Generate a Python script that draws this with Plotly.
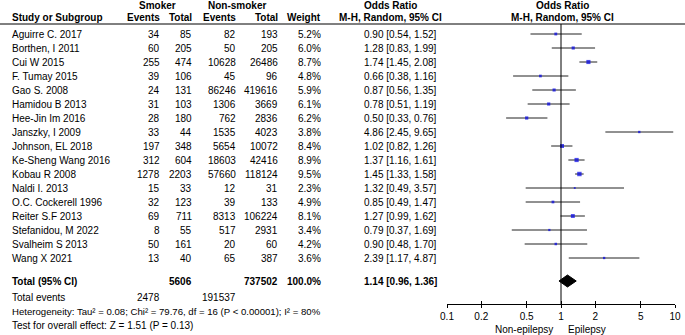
import plotly.graph_objects as go

# ---------------- data ----------------
studies = ["Aguirre C. 2017", "Borthen, I 2011", "Cui W 2015", "F. Tumay 2015", "Gao S. 2008",
           "Hamidou B 2013", "Hee-Jin Im 2016", "Janszky, I 2009", "Johnson, EL 2018",
           "Ke-Sheng Wang 2016", "Kobau R 2008", "Naldi I. 2013", "O.C. Cockerell 1996",
           "Reiter S.F 2013", "Stefanidou, M 2022", "Svalheim S 2013", "Wang X 2021"]
smoker_events = [34, 60, 255, 39, 24, 31, 28, 33, 197, 312, 1278, 15, 32, 69, 8, 50, 13]
smoker_total = [85, 205, 474, 106, 131, 103, 180, 44, 348, 604, 2203, 33, 123, 711, 55, 161, 40]
nonsmoker_events = [82, 50, 10628, 45, 86246, 1306, 762, 1535, 5654, 18603, 57660, 12, 39, 8313, 517, 20, 65]
nonsmoker_total = [193, 205, 26486, 96, 419616, 3669, 2836, 4023, 10072, 42416, 118124, 31, 133, 106224, 2931, 60, 387]
weights = [5.2, 6.0, 8.7, 4.8, 5.9, 6.1, 6.2, 3.8, 8.4, 8.9, 9.5, 2.3, 4.9, 8.1, 3.4, 4.2, 3.6]
odds_ratio = [0.90, 1.28, 1.74, 0.66, 0.87, 0.78, 0.50, 4.86, 1.02, 1.37, 1.45, 1.32, 0.85, 1.27, 0.79, 0.90, 2.39]
ci_low = [0.54, 0.83, 1.45, 0.38, 0.56, 0.51, 0.33, 2.45, 0.82, 1.16, 1.33, 0.49, 0.49, 0.99, 0.37, 0.48, 1.17]
ci_high = [1.52, 1.99, 2.08, 1.16, 1.35, 1.19, 0.76, 9.65, 1.26, 1.61, 1.58, 3.57, 1.47, 1.62, 1.69, 1.70, 4.87]

total_smoker = 5606
total_nonsmoker = 737502
total_weight = "100.0%"
events_smoker = 2478
events_nonsmoker = 191537
pooled_or = 1.14
pooled_low = 0.96
pooled_high = 1.36
heterogeneity = "Heterogeneity: Tau² = 0.08; Chi² = 79.76, df = 16 (P < 0.00001); I² = 80%"
overall_test = "Test for overall effect: Z = 1.51 (P = 0.13)"

tick_vals = [0.1, 0.2, 0.5, 1, 2, 5, 10]
tick_text = ["0.1", "0.2", "0.5", "1", "2", "5", "10"]
favours_left = "Non-epilepsy"
favours_right = "Epilepsy"

# ---------------- layout constants (pixels) ----------------
W, H = 685, 335
ROW0, STEP = 34, 14
TOTAL_Y = 281
EVENTS_Y = 297
HET_Y = 311
TEST_Y = 325
HEAD1_Y, HEAD2_Y = 5, 17
RULE_Y = 24
AXIS_Y = 304
PLOT_L, PLOT_R = 447, 675
FONT = "Liberation Sans, Arial, sans-serif"
FS = 10
FS_HET = 9.6

rows_y = [ROW0 + STEP * i for i in range(len(studies))]

fig = go.Figure()

# CI lines
xs, ys = [], []
for lo, hi, y in zip(ci_low, ci_high, rows_y):
    xs += [lo, hi, None]
    ys += [y, y, None]
fig.add_trace(go.Scatter(x=xs, y=ys, mode="lines", line=dict(color="#222222", width=1),
                         hoverinfo="skip", showlegend=False))
# point estimates
fig.add_trace(go.Scatter(x=odds_ratio, y=rows_y, mode="markers",
                         marker=dict(symbol="square", color="#0000e6",
                                     size=[1.0 + 0.36 * w for w in weights], line=dict(width=0)),
                         showlegend=False))
# pooled diamond
DH = 6
fig.add_trace(go.Scatter(x=[pooled_low, pooled_or, pooled_high, pooled_or, pooled_low],
                         y=[TOTAL_Y, TOTAL_Y - DH, TOTAL_Y, TOTAL_Y + DH, TOTAL_Y],
                         mode="lines", fill="toself", fillcolor="black",
                         line=dict(color="black", width=1), showlegend=False))
# invisible trace for inward-ticks companion axis
fig.add_trace(go.Scatter(x=[1], y=[AXIS_Y], xaxis="x2", mode="markers",
                         marker=dict(opacity=0), showlegend=False, hoverinfo="skip"))

axis_pos = 1 - AXIS_Y / H
dom = [PLOT_L / W, PLOT_R / W]
common_x = dict(type="log", range=[-1, 1], domain=dom, showgrid=False, zeroline=False,
                tickvals=tick_vals, showline=True, linecolor="black", linewidth=1,
                tickcolor="black", tickwidth=1, anchor="free", position=axis_pos,
                automargin=False, fixedrange=True)
fig.update_layout(
    width=W, height=H, margin=dict(l=0, r=0, t=0, b=0, pad=0, autoexpand=False),
    paper_bgcolor="white", plot_bgcolor="white",
    xaxis=dict(**common_x, ticks="outside", ticklen=3, ticktext=tick_text,
               tickfont=dict(family=FONT, size=FS, color="black"), side="bottom"),
    xaxis2=dict(**common_x, ticks="inside", ticklen=3, showticklabels=False,
                overlaying="x", matches="x"),
    yaxis=dict(range=[H, 0], domain=[0, 1], visible=False, automargin=False, fixedrange=True),
)

# vertical line at OR = 1
fig.add_shape(type="line", xref="x", yref="y", x0=1, x1=1, y0=RULE_Y, y1=AXIS_Y,
              line=dict(color="black", width=1))
# header rule
fig.add_shape(type="line", xref="paper", yref="y", x0=0, x1=1, y0=RULE_Y, y1=RULE_Y,
              line=dict(color="black", width=1))

anns = []

def txt(text, x, y, anchor="left", bold=False, size=FS):
    s = f"<b>{text}</b>" if bold else text
    anns.append(dict(text=s, x=x / W, y=y, xref="paper", yref="y", xanchor=anchor,
                     yanchor="middle", showarrow=False,
                     font=dict(family=FONT, size=size, color="black")))

# headers
txt("Smoker", 157, HEAD1_Y, "center", True)
txt("Non-smoker", 237, HEAD1_Y, "center", True)
txt("Odds Ratio", 390, HEAD1_Y, "center", True)
txt("Odds Ratio", 562, HEAD1_Y, "center", True)
txt("Study or Subgroup", 10, HEAD2_Y, "left", True)
txt("Events", 162, HEAD2_Y, "right", True)
txt("Total", 194, HEAD2_Y, "right", True)
txt("Events", 238, HEAD2_Y, "right", True)
txt("Total", 280, HEAD2_Y, "right", True)
txt("Weight", 323, HEAD2_Y, "right", True)
txt("M-H, Random, 95% CI", 390, HEAD2_Y, "center", True)
txt("M-H, Random, 95% CI", 562, HEAD2_Y, "center", True)

for i, y in enumerate(rows_y):
    txt(studies[i], 10, y)
    txt(str(smoker_events[i]), 162, y, "right")
    txt(str(smoker_total[i]), 194, y, "right")
    txt(str(nonsmoker_events[i]), 238, y, "right")
    txt(str(nonsmoker_total[i]), 280, y, "right")
    txt(f"{weights[i]:.1f}%", 323, y, "right")
    txt(f"{odds_ratio[i]:.2f} [{ci_low[i]:.2f}, {ci_high[i]:.2f}]", 439, y, "right")

txt("Total (95% CI)", 10, TOTAL_Y, "left", True)
txt(str(total_smoker), 194, TOTAL_Y, "right", True)
txt(str(total_nonsmoker), 280, TOTAL_Y, "right", True)
txt(total_weight, 323, TOTAL_Y, "right", True)
txt(f"{pooled_or:.2f} [{pooled_low:.2f}, {pooled_high:.2f}]", 439, TOTAL_Y, "right", True)
txt("Total events", 10, EVENTS_Y)
txt(str(events_smoker), 162, EVENTS_Y, "right")
txt(str(events_nonsmoker), 238, EVENTS_Y, "right")
txt(heterogeneity, 10, HET_Y, size=FS_HET)
txt(overall_test, 10, TEST_Y)
txt(favours_left, 555, 329, "right")
txt(favours_right, 566, 329, "left")

fig.update_layout(annotations=anns)
fig.write_html("out.html", config={"displayModeBar": False},
               post_script="document.body.style.margin='0px';document.body.style.padding='0px';")
